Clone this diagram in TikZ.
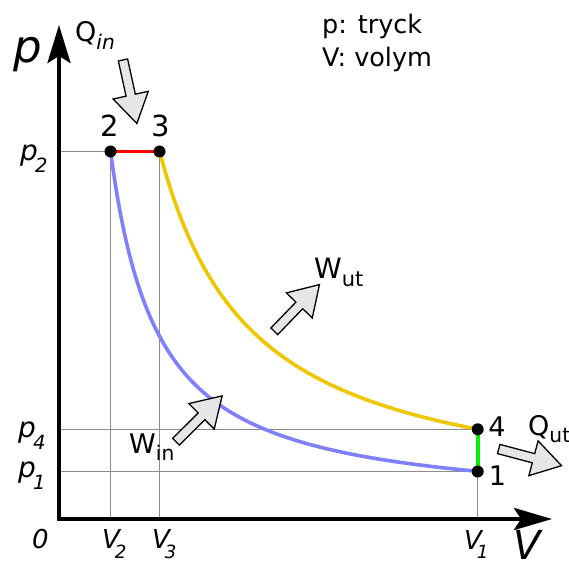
\documentclass[tikz,border=0pt]{standalone}
\usepackage{fontspec}
\setmainfont{DejaVu Sans}
\usetikzlibrary{arrows.meta}
\newcommand\fsz[1]{\fontsize{#1}{#1}\selectfont}
\newcommand\lsub[2]{\raisebox{-#1}{\scalebox{0.75}{#2}}}
\newcommand\isub[3]{\kern#1\raisebox{-#2}{\scalebox{0.7}{#3}}}
\definecolor{cblue}{RGB}{128,128,255}
\definecolor{cyellow}{RGB}{240,198,0}
\definecolor{cgreen}{RGB}{0,240,0}
\definecolor{cred}{RGB}{255,0,0}
\definecolor{cgrid}{RGB}{140,140,140}
\definecolor{cfill}{RGB}{230,230,230}
\begin{document}
\begin{tikzpicture}[x=1pt,y=1pt,
  axisline/.style={line width=4pt, line join=miter, {Stealth[length=38pt,width=23pt,inset=7pt]}-{Stealth[length=38pt,width=22pt,inset=7pt]}},
  gridline/.style={draw=cgrid, line width=1.2pt},
  curve/.style={line width=3.6pt},
  dot/.style={circle, fill=black, inner sep=0pt, minimum size=12pt},
  lbl/.style={inner sep=0pt, anchor=base west},
  barrow/.style={draw=black, fill=cfill, line width=1.3pt, line join=miter},
  blockarrow/.pic={\draw[barrow] (0,-4.75) -- (36,-4.75) -- (36,-18) -- (65,0) -- (36,18) -- (36,4.75) -- (0,4.75) -- cycle;}
]
\useasboundingbox (0,0) rectangle (569,563);
% key points
\coordinate (O) at (59,44);
\coordinate (ytip) at (59,538);
\coordinate (xtip) at (552,44);
\coordinate (c2) at (110.5,411.5);
\coordinate (c3) at (159.5,411.5);
\coordinate (c4) at (477.7,133.7);
\coordinate (c1) at (477.7,91.5);
% grid lines
\draw[gridline] (O |- c2) -- (c2);
\draw[gridline] (c2 |- O) -- (c2);
\draw[gridline] (c3 |- O) -- (c3);
\draw[gridline] (O |- c4) -- (c4);
\draw[gridline] (O |- c1) -- (c1);
\draw[gridline] (c1 |- O) -- (c1);
% axes
\draw[axisline] (ytip) -- (O) -- (xtip);
% curves
\draw[curve, cblue] plot[domain=51.5:418.7, samples=160, variable=\v] ({59+\v},{56.2+355.8*pow(\v/51.5,-1.1)});
\draw[curve, cyellow] plot[domain=100.5:418.7, samples=160, variable=\v] ({59+\v},{60.6+351.4*pow(\v/100.5,-1.1)});
\draw[curve, cred] (c2) -- (c3);
\draw[curve, cgreen] (c4) -- (c1);
% dots
\node[dot] (n2) at (c2) {};
\node[dot] (n3) at (c3) {};
\node[dot] (n4) at (c4) {};
\node[dot] (n1) at (c1) {};
% block arrows
\pic[rotate=-77.66] (aqin) at (123,503) {blockarrow};
\pic[rotate=45.98] (awut) at (274.3,231.7) {blockarrow};
\pic[rotate=44.8] (awin) at (176,121.3) {blockarrow};
\pic[rotate=-14.88] (aqut) at (498.7,114) {blockarrow};
% axis labels
\node[inner sep=0pt, anchor=base, font=\fsz{45}\itshape] (lp) at (28,500.4) {p};
\node[lbl, font=\fsz{40}\itshape] (lV) at (513,4) {V};
\node[inner sep=0pt, anchor=base, font=\fsz{26}\itshape] (l0) at (40.5,14.7) {0};
\node[lbl, font=\fsz{28}\itshape] (lp2) at (20,402.7) {p\isub{-0.1em}{0.45em}{2}};
\node[lbl, font=\fsz{28}\itshape] (lp4) at (18,126) {p\isub{-0.1em}{0.45em}{4}};
\node[lbl, font=\fsz{28}\itshape] (lp1) at (18,85.7) {p\isub{-0.1em}{0.45em}{1}};
\node[lbl, font=\fsz{26}\itshape] (lV2) at (102,14.7) {V\isub{-0.2em}{0.38em}{2}};
\node[lbl, font=\fsz{26}\itshape] (lV3) at (152,14.7) {V\isub{-0.2em}{0.38em}{3}};
\node[lbl, font=\fsz{26}\itshape] (lV1) at (464,14) {V\isub{-0.2em}{0.38em}{1}};
% point labels
\node[inner sep=0pt, anchor=base, font=\fsz{29}] (t2) at (109.5,426.3) {2};
\node[inner sep=0pt, anchor=base, font=\fsz{29}] (t3) at (160.5,426.3) {3};
\node[inner sep=0pt, anchor=base, font=\fsz{27}] (t4) at (497,127) {4};
\node[inner sep=0pt, anchor=base, font=\fsz{27}] (t1) at (497.5,78) {1};
% heat / work labels
\node[lbl, font=\fsz{27}] (lqin) at (75,521) {Q\lsub{0.28em}{\itshape in}};
\node[lbl, font=\fsz{28}] (lwut) at (314,284.7) {W\lsub{0.28em}{ut}};
\node[lbl, font=\fsz{27}] (lwin) at (129,109.7) {W\lsub{0.26em}{in}};
\node[lbl, font=\fsz{27}] (lqut) at (528,128) {Q\lsub{0.28em}{ut}};
% legend
\node[lbl, font=\fsz{25.5}] (leg1) at (322,529.3) {p: tryck};
\node[lbl, font=\fsz{25.5}] (leg2) at (322,496.3) {V: volym};
\end{tikzpicture}
\end{document}
